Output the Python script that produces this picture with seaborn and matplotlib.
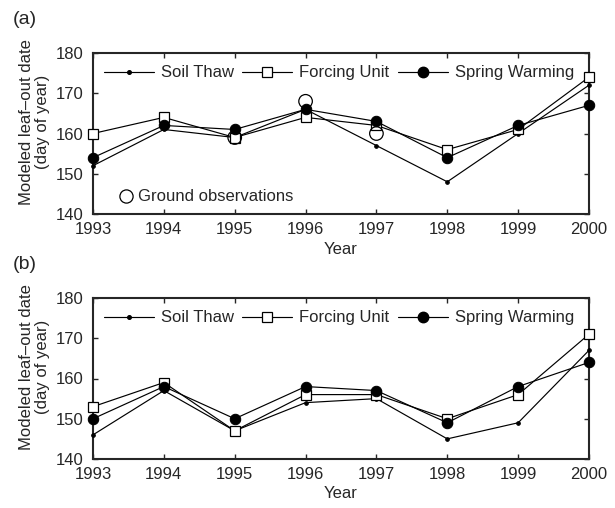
import matplotlib
matplotlib.use("Agg")
import matplotlib.pyplot as plt
import seaborn as sns
import pandas as pd
from matplotlib.lines import Line2D

years = [1993, 1994, 1995, 1996, 1997, 1998, 1999, 2000]

a_soil_thaw = [152, 161, 159, 166, 157, 148, 160, 172]
a_forcing_unit = [160, 164, 159, 164, 162, 156, 161, 174]
a_spring_warming = [154, 162, 161, 166, 163, 154, 162, 167]
obs_years = [1995, 1996, 1997]
obs_values = [159, 168, 160]

b_soil_thaw = [146, 157, 147, 154, 155, 145, 149, 167]
b_forcing_unit = [153, 159, 147, 156, 156, 150, 156, 171]
b_spring_warming = [150, 158, 150, 158, 157, 149, 158, 164]

yticks = [140, 150, 160, 170, 180]

sns.set_style("ticks")
plt.rcParams['font.family'] = ['Liberation Sans', 'DejaVu Sans']
plt.rcParams['font.size'] = 12

fig = plt.figure(figsize=(6.15, 5.08), dpi=100)
ax_a = fig.add_axes([93 / 615, (508 - 214) / 508, 496 / 615, 161 / 508])
ax_b = fig.add_axes([93 / 615, (508 - 459) / 508, 496 / 615, 161 / 508])

LW = 0.85
styles = {
    "Soil Thaw": dict(marker="o", markersize=2.6, markerfacecolor="black", markeredgecolor="black"),
    "Forcing Unit": dict(marker="s", markersize=6.5, markerfacecolor="white", markeredgecolor="black", markeredgewidth=0.9),
    "Spring Warming": dict(marker="o", markersize=7.5, markerfacecolor="black", markeredgecolor="black"),
}

def draw(ax, series, panel_label, obs=False):
    for name, vals in series:
        df = pd.DataFrame({"Year": years, "v": vals})
        sns.lineplot(data=df, x="Year", y="v", ax=ax, color="black", linewidth=LW,
                     clip_on=False, zorder=3, **styles[name])
    if obs:
        dfo = pd.DataFrame({"Year": obs_years, "v": obs_values})
        sns.scatterplot(data=dfo, x="Year", y="v", ax=ax, marker="o", s=95,
                        facecolor="none", edgecolor="black", linewidth=0.9, zorder=4, clip_on=False)
    ax.set_xlim(1993, 2000)
    ax.set_ylim(140, 180)
    ax.set_xticks(years)
    ax.set_yticks(yticks)
    ax.tick_params(direction="in", top=True, right=True, length=3.5, width=1, labelsize=12)
    ax.tick_params(axis="x", pad=6)
    ax.tick_params(axis="y", pad=7)
    for s in ax.spines.values():
        s.set_linewidth(1.5)
        s.set_visible(True)
    ax.set_xlabel("Year", fontsize=12, labelpad=3)
    ax.set_ylabel("Modeled leaf\u2013out date\n(day of year)", fontsize=12, linespacing=1.05)
    ax.yaxis.set_label_coords(-0.087, 0.57)
    handles = [Line2D([], [], color="black", linewidth=LW, **styles[n]) for n, _ in series]
    leg = ax.legend(handles, [n for n, _ in series], loc="center", ncol=3, frameon=False,
                    handlelength=3.0, columnspacing=0.5, handletextpad=0.42, fontsize=12,
                    bbox_to_anchor=(0.496, 0.876), borderaxespad=0, borderpad=0)
    if obs:
        ax.add_artist(leg)
        h2 = [Line2D([], [], linestyle="none", marker="o", markersize=9.5, markerfacecolor="none",
                     markeredgecolor="black", markeredgewidth=0.9)]
        ax.legend(h2, ["Ground observations"], loc="center left", frameon=False, fontsize=12,
                  handlelength=1.0, handletextpad=0.2, borderpad=0, borderaxespad=0,
                  bbox_to_anchor=(0.05, 0.106))
    ax.text(-0.161, 1.261, panel_label, transform=ax.transAxes, fontsize=14, va="top", ha="left")

draw(ax_a, [("Soil Thaw", a_soil_thaw), ("Forcing Unit", a_forcing_unit),
            ("Spring Warming", a_spring_warming)], "(a)", obs=True)
draw(ax_b, [("Soil Thaw", b_soil_thaw), ("Forcing Unit", b_forcing_unit),
            ("Spring Warming", b_spring_warming)], "(b)")

fig.savefig("out.png", dpi=100)
